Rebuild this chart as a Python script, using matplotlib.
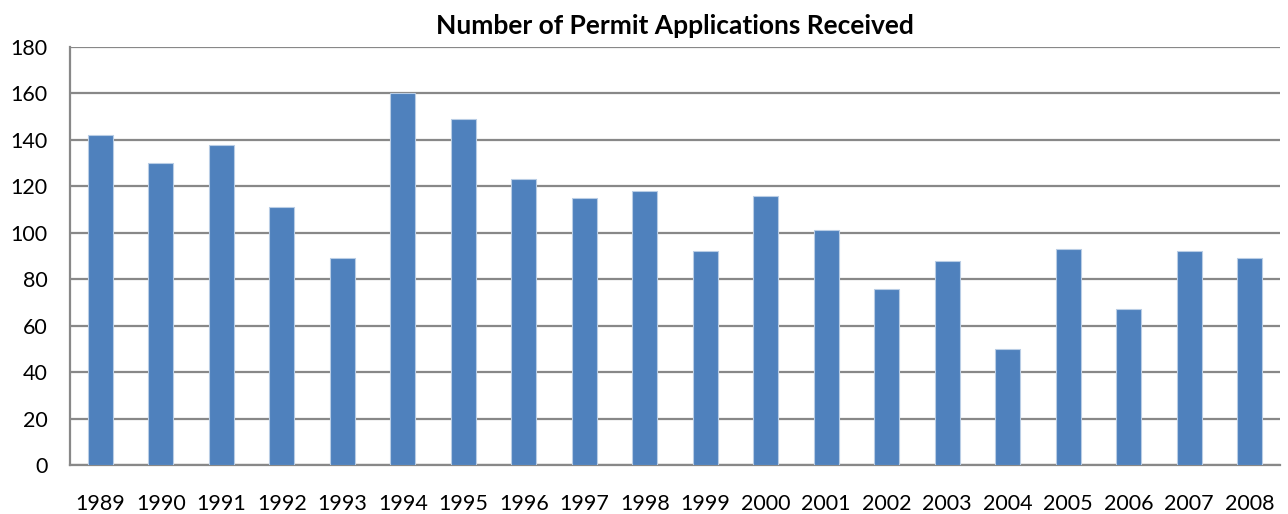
import matplotlib
matplotlib.use("Agg")
import matplotlib.pyplot as plt

# data
years = [str(y) for y in range(1989, 2009)]
applications = [142, 130, 138, 111, 89, 160, 149, 123, 115, 118,
                92, 116, 101, 76, 88, 50, 93, 67, 92, 89]
yticks = [0, 20, 40, 60, 80, 100, 120, 140, 160, 180]

plt.rcParams['font.family'] = ['Lato', 'DejaVu Sans']

fig = plt.figure(figsize=(12.88, 5.14), dpi=100)
ax = fig.add_axes([70 / 1288, 1 - 465 / 514, (1280 - 70) / 1288, (465 - 47) / 514])

x = list(range(len(years)))
ax.bar(x, applications, width=0.42, color="#4F81BD", edgecolor="#B9CDE5",
       linewidth=0.8, zorder=3)

ax.set_xlim(-0.5, len(years) - 0.5)
ax.set_ylim(0, 180)
ax.set_yticks(yticks)
ax.set_xticks(x)
ax.set_xticklabels(years)

ax.grid(axis="y", color="#888888", linewidth=1.6, zorder=0)
for s in ["top", "right"]:
    ax.spines[s].set_visible(False)
ax.spines["left"].set_color("#888888")
ax.spines["left"].set_linewidth(1.6)
ax.spines["bottom"].set_color("#888888")
ax.spines["bottom"].set_linewidth(1.6)
ax.tick_params(axis="both", length=0, labelsize=15.5, labelcolor="black")
ax.tick_params(axis="x", pad=21)
ax.tick_params(axis="y", pad=16)

ax.set_title("Number of Permit Applications Received", fontsize=19,
             fontweight="bold", pad=9)

fig.savefig("out.png", dpi=100)
